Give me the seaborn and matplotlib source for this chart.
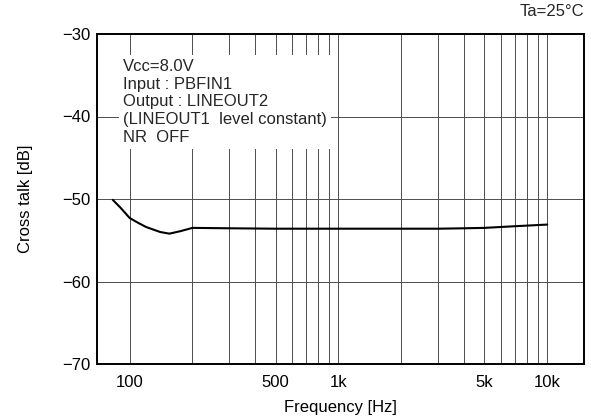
import matplotlib
matplotlib.use("Agg")
import matplotlib.pyplot as plt
import seaborn as sns
import pandas as pd
from matplotlib.ticker import FixedLocator, NullFormatter

# data
freq_hz = [83, 90, 100, 110, 120, 140, 155, 175, 200, 300, 500, 1000, 2000, 3000, 4000, 5000, 7000, 10000]
crosstalk_db = [-50.1, -51.0, -52.3, -52.9, -53.4, -54.0, -54.2, -53.9, -53.5, -53.55, -53.6, -53.6, -53.6, -53.6, -53.55, -53.5, -53.3, -53.1]

major_ticks = [100, 500, 1000, 5000, 10000]
major_labels = ["100", "500", "1k", "5k", "10k"]
grid_freqs = [100, 200, 300, 400, 500, 600, 700, 800, 900,
              1000, 2000, 3000, 4000, 5000, 6000, 7000, 8000, 9000, 10000]
y_ticks = [-30, -40, -50, -60, -70]
y_labels = ["\u221230", "\u221240", "\u221250", "\u221260", "\u221270"]

conditions = "Vcc=8.0V\nInput : PBFIN1\nOutput : LINEOUT2\n(LINEOUT1  level constant)\nNR  OFF"

FS = 12

sns.set_theme(style="white")
plt.rcParams["font.family"] = ["Liberation Sans", "DejaVu Sans"]

df = pd.DataFrame({"freq": freq_hz, "db": crosstalk_db})

fig = plt.figure(figsize=(5.91, 4.17), dpi=100)
ax = fig.add_axes([97.3 / 591, 1 - 364 / 417, (584 - 97.3) / 591, (364 - 34) / 417])

sns.lineplot(data=df, x="freq", y="db", ax=ax, color="black", linewidth=1.5, zorder=5)

ax.set_xscale("log")
ax.set_xlim(70, 15000)
ax.set_ylim(-70, -30)

# grid lines
for f in grid_freqs:
    ax.axvline(f, color="0.3", linewidth=0.7, zorder=1)
for y in y_ticks:
    ax.axhline(y, color="0.3", linewidth=0.7, zorder=1)

ax.xaxis.set_major_locator(FixedLocator(major_ticks))
ax.set_xticklabels(major_labels)
ax.xaxis.set_minor_formatter(NullFormatter())
ax.set_yticks(y_ticks)
ax.set_yticklabels(y_labels)
ax.tick_params(axis="both", which="both", length=0, labelsize=FS, colors="black")
ax.tick_params(axis="x", pad=8)
ax.tick_params(axis="y", pad=5)

for s in ax.spines.values():
    s.set_color("black")
    s.set_linewidth(1.4)
    s.set_zorder(6)

ax.set_xlabel("Frequency [Hz]", fontsize=FS, color="black", labelpad=7)
ax.set_ylabel("Cross talk [dB]", fontsize=FS, color="black")
ax.yaxis.set_label_coords(-(97.3 - 33) / (584 - 97.3), 0.5)

fig.text(123 / 591, 1 - 59 / 417, conditions, ha="left", va="top", fontsize=FS,
         linespacing=1.22, zorder=4,
         bbox=dict(facecolor="white", edgecolor="none", pad=3))

fig.text(584 / 591, 1 - 12 / 417, "Ta=25\u00b0C", ha="right", va="center", fontsize=FS)

fig.savefig("out.png", dpi=100)
